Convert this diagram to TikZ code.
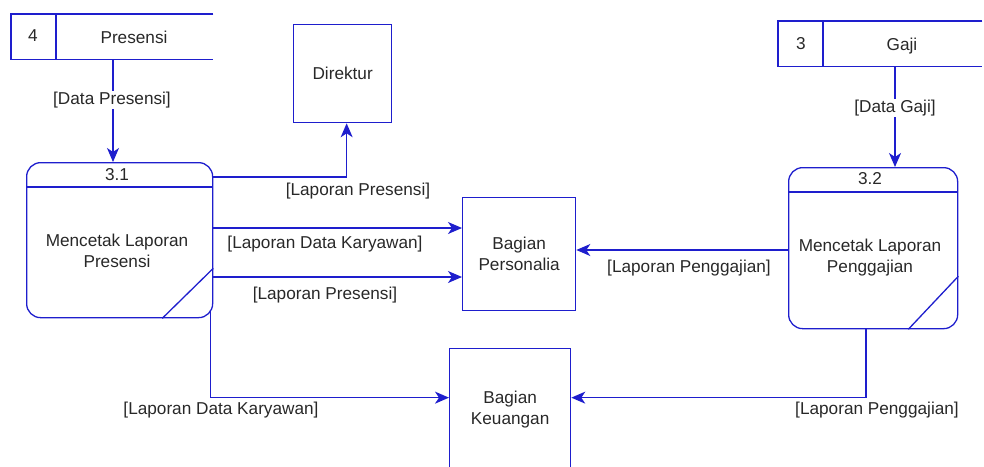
\documentclass[tikz,border=0pt]{standalone}
\usepackage{fontspec}
\setmainfont{Liberation Sans}
\usetikzlibrary{arrows.meta}
\definecolor{dfd}{RGB}{30,30,205}
\definecolor{txt}{RGB}{40,40,40}
\begin{document}
\begin{tikzpicture}[x=1pt,y=-1pt,
  every node/.style={font=\fontsize{17.2}{21}\selectfont, text=txt},
  ln/.style={draw=dfd, line width=1.3pt},
  flow/.style={ln, -{Stealth[length=14pt,width=12pt,inset=4pt]}},
  box/.style={rectangle, anchor=north west, inner sep=0pt},
  ent/.style={box, ln, align=center},
  proc/.style={box, ln, rounded corners=14pt},
  lbl/.style={inner sep=1pt, fill=white},
  body/.style={align=center}]
\useasboundingbox (0,0) rectangle (984,466);
% data stores
\node[box, minimum width=202pt, minimum height=45pt] (s4) at (11,14) {};
\draw[ln] (s4.north east) -- (s4.north west) -- (s4.south west) -- (s4.south east);
\draw[ln] ([xshift=45pt]s4.north west) -- ([xshift=45pt]s4.south west);
\node (s4n) at (33,36) {4};
\node (s4t) at (134,37) {Presensi};
\node[box, minimum width=204pt, minimum height=45pt] (s3) at (778,21) {};
\draw[ln] (s3.north east) -- (s3.north west) -- (s3.south west) -- (s3.south east);
\draw[ln] ([xshift=45pt]s3.north west) -- ([xshift=45pt]s3.south west);
\node (s3n) at (801,44) {3};
\node (s3t) at (902,46) {Gaji};
% external entities
\node[ent, minimum width=98pt, minimum height=98pt] (dir) at (293,24) {Direktur};
\node[ent, minimum width=113pt, minimum height=113pt] (per) at (462,197) {Bagian\\Personalia};
\node[ent, minimum width=121pt, minimum height=122pt] (keu) at (449,348) {Bagian\\Keuangan};
% processes
\node[proc, minimum width=186pt, minimum height=155pt] (p1) at (26,162) {};
\draw[ln] ([yshift=-25pt]p1.north west) -- ([yshift=-25pt]p1.north east);
\draw[ln] ([yshift=50pt]p1.south east) -- ([xshift=-51pt]p1.south east);
\node (p1n) at (117,175) {3.1};
\node[body] (p1t) at (117,251) {Mencetak Laporan\\Presensi};
\node[proc, minimum width=169pt, minimum height=161pt] (p2) at (788,167) {};
\draw[ln] ([yshift=-25pt]p2.north west) -- ([yshift=-25pt]p2.north east);
\draw[ln] ([yshift=53pt]p2.south east) -- ([xshift=-50pt]p2.south east);
\node (p2n) at (870,179) {3.2};
\node[body] (p2t) at (870,258) {Mencetak Laporan\\Penggajian};
% flows
\draw[flow] ([xshift=102pt]s4.south west) coordinate (a1) -- (a1 |- p1.north);
\draw[flow] ([xshift=117pt]s3.south west) coordinate (a2) -- (a2 |- p2.north);
\draw[flow] ([yshift=-15pt]p1.north east) -| ([xshift=4pt]dir.south);
\draw[flow] ([yshift=-66pt]p1.north east) coordinate (f1) -- (f1 -| per.west);
\draw[flow] ([yshift=-115pt]p1.north east) coordinate (f2) -- (f2 -| per.west);
\draw[flow] ([xshift=-3pt,yshift=8pt]p1.south east) |- ([yshift=12pt]keu.west);
\draw[flow] ([yshift=-83pt]p2.north west) coordinate (f3) -- (f3 -| per.east);
\draw[flow] ([xshift=78pt]p2.south west) |- ([yshift=12pt]keu.east);
% labels
\node[lbl] (l1) at (112,100) {[Data Presensi]};
\node[lbl] (l2) at (895,108) {[Data Gaji]};
\node (l3) at (358,191) {[Laporan Presensi]};
\node (l4) at (325,244) {[Laporan Data Karyawan]};
\node (l5) at (325,295) {[Laporan Presensi]};
\node (l6) at (221,410) {[Laporan Data Karyawan]};
\node (l7) at (689,268) {[Laporan Penggajian]};
\node (l8) at (877,410) {[Laporan Penggajian]};
\end{tikzpicture}
\end{document}
